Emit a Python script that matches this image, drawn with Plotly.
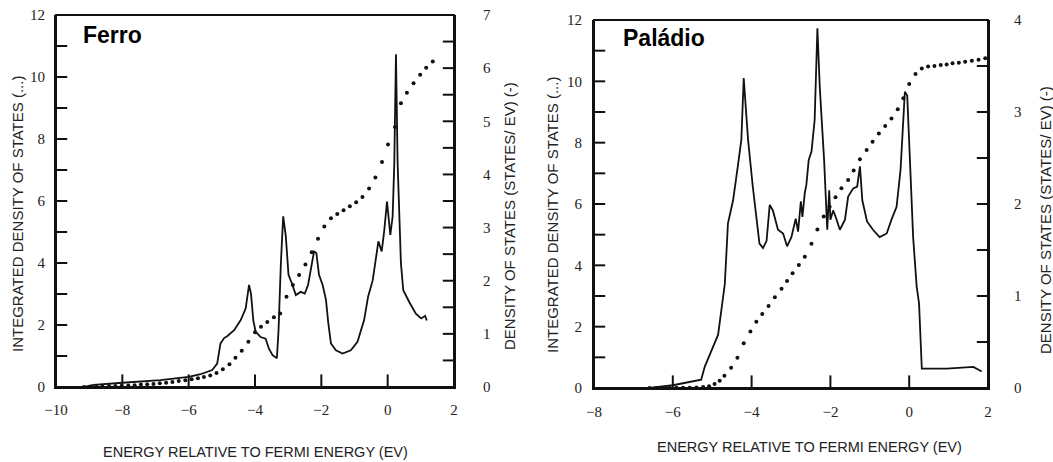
import plotly.graph_objects as go

# ---------------- data ----------------
# Ferro: density of states (solid line, right axis, states/eV)
fe_dos_e = [-9.16, -8.86, -8.0, -6.85, -6.0, -5.64, -5.29, -5.14, -5.04, -4.93,
            -4.83, -4.63, -4.43, -4.28, -4.18, -4.12, -4.05, -3.98, -3.83, -3.68,
            -3.58, -3.47, -3.34, -3.29, -3.22, -3.15, -3.07, -2.99, -2.87, -2.77,
            -2.62, -2.50, -2.40, -2.32, -2.22, -2.15, -2.07, -1.96, -1.86, -1.79,
            -1.71, -1.56, -1.36, -1.11, -0.91, -0.71, -0.59, -0.45, -0.35, -0.28,
            -0.18, -0.10, -0.02, 0.08, 0.15, 0.20, 0.25, 0.30, 0.40, 0.47,
            0.65, 0.85, 1.01, 1.13, 1.18]
fe_dos_v = [0.0, 0.04, 0.08, 0.13, 0.19, 0.24, 0.32, 0.44, 0.82, 0.92,
            0.96, 1.07, 1.26, 1.48, 1.92, 1.75, 1.25, 1.04, 0.94, 0.91,
            0.72, 0.60, 0.54, 1.07, 2.33, 3.21, 2.83, 2.11, 1.92, 1.73,
            1.79, 1.76, 1.92, 2.20, 2.55, 2.52, 2.11, 1.92, 1.64, 1.20,
            0.82, 0.69, 0.63, 0.69, 0.85, 1.26, 1.70, 2.01, 2.45, 2.74,
            2.55, 2.96, 3.49, 2.86, 3.21, 4.21, 6.26, 4.21, 2.33, 1.82,
            1.60, 1.38, 1.29, 1.34, 1.25]
# Ferro: integrated density of states (dots, left axis)
fe_int_e = [-9.16, -8.97, -8.78, -8.6, -8.4, -8.21, -8.02, -7.82, -7.63, -7.44,
            -7.25, -7.06, -6.87, -6.68, -6.49, -6.30, -6.10, -5.91, -5.72, -5.54,
            -5.35, -5.16, -4.97, -4.77, -4.59, -4.40, -4.20, -4.0, -3.82, -3.63,
            -3.43, -3.24, -3.05, -2.86, -2.67, -2.48, -2.29, -2.10, -1.91, -1.71,
            -1.52, -1.33, -1.14, -0.95, -0.76, -0.56, -0.37, -0.17, 0.01, 0.22,
            0.40, 0.58, 0.78, 0.98, 1.16, 1.36]
fe_int_v = [0.0, 0.01, 0.01, 0.02, 0.03, 0.03, 0.04, 0.05, 0.06, 0.08,
            0.09, 0.10, 0.12, 0.14, 0.16, 0.19, 0.22, 0.25, 0.28, 0.32,
            0.37, 0.45, 0.57, 0.73, 0.94, 1.17, 1.46, 1.77, 1.94, 2.10,
            2.25, 2.37, 2.91, 3.29, 3.61, 3.95, 4.35, 4.78, 5.18, 5.44,
            5.58, 5.70, 5.83, 5.96, 6.13, 6.40, 6.76, 7.26, 7.82, 8.39,
            9.15, 9.49, 9.80, 10.07, 10.3, 10.5]

# Paladio: density of states (solid line, right axis)
pd_dos_e = [-6.6, -6.0, -5.28, -5.19, -4.85, -4.68, -4.60, -4.47, -4.35, -4.26,
            -4.20, -4.09, -3.97, -3.80, -3.71, -3.62, -3.54, -3.46, -3.33, -3.20,
            -3.10, -2.99, -2.88, -2.82, -2.75, -2.71, -2.65, -2.61, -2.55, -2.48,
            -2.40, -2.33, -2.27, -2.16, -2.08, -2.03, -2.00, -1.93, -1.85, -1.76,
            -1.63, -1.55, -1.42, -1.32, -1.25, -1.19, -1.07, -0.92, -0.75, -0.57,
            -0.45, -0.32, -0.22, -0.15, -0.11, -0.05, 0.02, 0.10, 0.19, 0.25,
            0.32, 0.95, 1.63, 1.84]
pd_dos_v = [0.0, 0.03, 0.09, 0.23, 0.58, 1.13, 1.79, 2.04, 2.41, 2.70,
            3.37, 2.70, 2.19, 1.57, 1.52, 1.60, 1.99, 1.93, 1.72, 1.68,
            1.54, 1.64, 1.84, 1.70, 2.03, 1.86, 2.12, 2.21, 2.48, 2.57,
            2.91, 3.91, 3.27, 2.48, 1.72, 2.15, 1.83, 1.93, 1.84, 1.72,
            1.83, 2.08, 2.17, 2.19, 2.41, 2.04, 1.81, 1.72, 1.64, 1.68,
            1.83, 1.97, 2.37, 2.99, 3.22, 3.18, 2.48, 1.64, 1.10, 0.92,
            0.21, 0.21, 0.23, 0.18]
# Paladio: integrated density of states (dots, left axis)
pd_int_e = [-6.59, -6.42, -6.25, -6.08, -5.91, -5.74, -5.57, -5.40, -5.23, -5.08,
            -4.94, -4.81, -4.69, -4.52, -4.36, -4.20, -4.03, -3.88, -3.73, -3.57,
            -3.41, -3.24, -3.10, -2.96, -2.80, -2.65, -2.48, -2.33, -2.17, -2.02,
            -1.87, -1.72, -1.55, -1.41, -1.25, -1.08, -0.93, -0.77, -0.61, -0.45,
            -0.29, -0.15, 0.0, 0.16, 0.32, 0.48, 0.64, 0.80, 0.95, 1.10,
            1.26, 1.42, 1.59, 1.76, 1.93]
pd_int_v = [0.0, 0.0, 0.0, 0.0, 0.01, 0.01, 0.01, 0.02, 0.03, 0.06,
            0.13, 0.24, 0.40, 0.66, 0.99, 1.46, 1.84, 2.16, 2.41, 2.67,
            2.96, 3.24, 3.49, 3.74, 4.01, 4.28, 4.70, 5.17, 5.59, 5.91,
            6.22, 6.51, 6.78, 7.09, 7.46, 7.76, 8.03, 8.30, 8.54, 8.79,
            9.09, 9.45, 9.91, 10.24, 10.42, 10.48, 10.50, 10.53, 10.55, 10.59,
            10.61, 10.64, 10.67, 10.70, 10.75]

x_title = "ENERGY RELATIVE TO FERMI ENERGY (EV)"
y_left_title = "INTEGRATED DENSITY OF STATES (...)"
y_right_title = "DENSITY OF STATES (STATES/ EV) (-)"
panel_names = ["Ferro", "Paládio"]

# axis ranges
fe_x_range = [-10, 2]
pd_x_range = [-8, 2]
int_range = [0, 12]
fe_dos_range = [0, 7]
pd_dos_range = [0, 4]

# ---------------- figure ----------------
W, H = 1053, 462
INK = "#111111"
TXT = "#222222"
# frame pixel boxes: (left, right, top, bottom)
FE_BOX = (56, 454, 15, 387)
PD_BOX = (594, 988, 20, 388)


def fx(p):
    return p / W


def fy(p):
    return 1 - p / H


def inner(lo, hi, step):
    """tick positions strictly inside an axis range"""
    out = []
    k = 1
    while lo + k * step < hi - 1e-9:
        out.append(round(lo + k * step, 6))
        k += 1
    return out


fig = go.Figure()
fig.add_trace(go.Scatter(x=fe_int_e, y=fe_int_v, mode="markers", xaxis="x", yaxis="y",
                         marker=dict(size=4, color=INK), showlegend=False))
fig.add_trace(go.Scatter(x=fe_dos_e, y=fe_dos_v, mode="lines", xaxis="x", yaxis="y2",
                         line=dict(color=INK, width=1.8), showlegend=False))
fig.add_trace(go.Scatter(x=pd_int_e, y=pd_int_v, mode="markers", xaxis="x2", yaxis="y3",
                         marker=dict(size=4, color=INK), showlegend=False))
fig.add_trace(go.Scatter(x=pd_dos_e, y=pd_dos_v, mode="lines", xaxis="x2", yaxis="y4",
                         line=dict(color=INK, width=1.8), showlegend=False))

# inward tick marks: line markers sitting on the frame edge, half clipped by the plot area
tick_marker_x = dict(symbol="line-ns", size=18, line=dict(color=INK, width=2), color=INK)
tick_marker_y = dict(symbol="line-ew", size=16, line=dict(color=INK, width=2), color=INK)
for xa, yl, yr, xrange, rrange in [("x", "y", "y2", fe_x_range, fe_dos_range),
                                   ("x2", "y3", "y4", pd_x_range, pd_dos_range)]:
    xt = inner(xrange[0], xrange[1], 2)
    fig.add_trace(go.Scatter(x=xt, y=[int_range[0]] * len(xt), mode="markers", xaxis=xa, yaxis=yl,
                             marker=tick_marker_x, cliponaxis=True, hoverinfo="skip", showlegend=False))
    yt = inner(int_range[0], int_range[1], 1)
    fig.add_trace(go.Scatter(x=[xrange[0]] * len(yt), y=yt, mode="markers", xaxis=xa, yaxis=yl,
                             marker=tick_marker_y, cliponaxis=True, hoverinfo="skip", showlegend=False))
    rt = inner(rrange[0], rrange[1], 0.5)
    fig.add_trace(go.Scatter(x=[xrange[1]] * len(rt), y=rt, mode="markers", xaxis=xa, yaxis=yr,
                             marker=tick_marker_y, cliponaxis=True, hoverinfo="skip", showlegend=False))

tickfont = dict(family="Liberation Serif", size=15, color=TXT)
base = dict(showline=True, linecolor=INK, linewidth=2, mirror=False, automargin=False,
            showgrid=False, zeroline=False, ticks="", tickfont=tickfont)

fig.update_layout(
    width=W, height=H,
    margin=dict(l=0, r=0, t=0, b=0, autoexpand=False),
    paper_bgcolor="white", plot_bgcolor="white",
    showlegend=False,
    xaxis=dict(base, domain=[fx(FE_BOX[0]), fx(FE_BOX[1])], range=fe_x_range, tick0=-10, dtick=2,
               anchor="y", ticklabelstandoff=8),
    yaxis=dict(base, domain=[fy(FE_BOX[3]), fy(FE_BOX[2])], range=int_range, tick0=0, dtick=2,
               anchor="x", ticklabelstandoff=6),
    yaxis2=dict(base, overlaying="y", side="right", anchor="x", range=fe_dos_range, tick0=0, dtick=1,
                ticklabelstandoff=24),
    xaxis2=dict(base, domain=[fx(PD_BOX[0]), fx(PD_BOX[1])], range=pd_x_range, tick0=-8, dtick=2,
                anchor="y3", ticklabelstandoff=9),
    yaxis3=dict(base, domain=[fy(PD_BOX[3]), fy(PD_BOX[2])], range=int_range, tick0=0, dtick=2,
                anchor="x2", ticklabelstandoff=7),
    yaxis4=dict(base, overlaying="y3", side="right", anchor="x2", range=pd_dos_range, tick0=0, dtick=1,
                ticklabelstandoff=21),
)

# plot frames (top edge included)
shapes = []
for xr, yl in [("x", "y"), ("x2", "y3")]:
    shapes.append(dict(type="rect", xref=xr + " domain", yref=yl + " domain",
                       x0=0, x1=1, y0=0, y1=1, line=dict(color=INK, width=2),
                       fillcolor="rgba(0,0,0,0)", layer="above"))
fig.update_layout(shapes=shapes)

title_font = dict(family="Liberation Sans", size=15, color=TXT)
ann = []
# panel names
ann.append(dict(text="<b>%s</b>" % panel_names[0], x=fx(81), y=fy(35), xanchor="left", yanchor="middle",
                font=dict(family="Liberation Sans", size=23, color="black")))
ann.append(dict(text="<b>%s</b>" % panel_names[1], x=fx(621), y=fy(38), xanchor="left", yanchor="middle",
                font=dict(family="Liberation Sans", size=23, color="black")))
# x titles
ann.append(dict(text=x_title, x=fx(255), y=fy(452), xanchor="center", yanchor="middle",
                font=dict(family="Liberation Sans", size=14.5, color=TXT)))
ann.append(dict(text=x_title, x=fx(809), y=fy(447), xanchor="center", yanchor="middle",
                font=dict(family="Liberation Sans", size=14.5, color=TXT)))
# y titles
for xp, yp, t in [(17, 214, y_left_title), (510, 216, y_right_title),
                  (552, 215, y_left_title), (1045, 220, y_right_title)]:
    ann.append(dict(text=t, x=fx(xp), y=fy(yp), xanchor="center", yanchor="middle",
                    textangle=-90, font=title_font))
for a in ann:
    a.update(xref="paper", yref="paper", showarrow=False)
fig.update_layout(annotations=ann)

fig.write_html("out.html")
